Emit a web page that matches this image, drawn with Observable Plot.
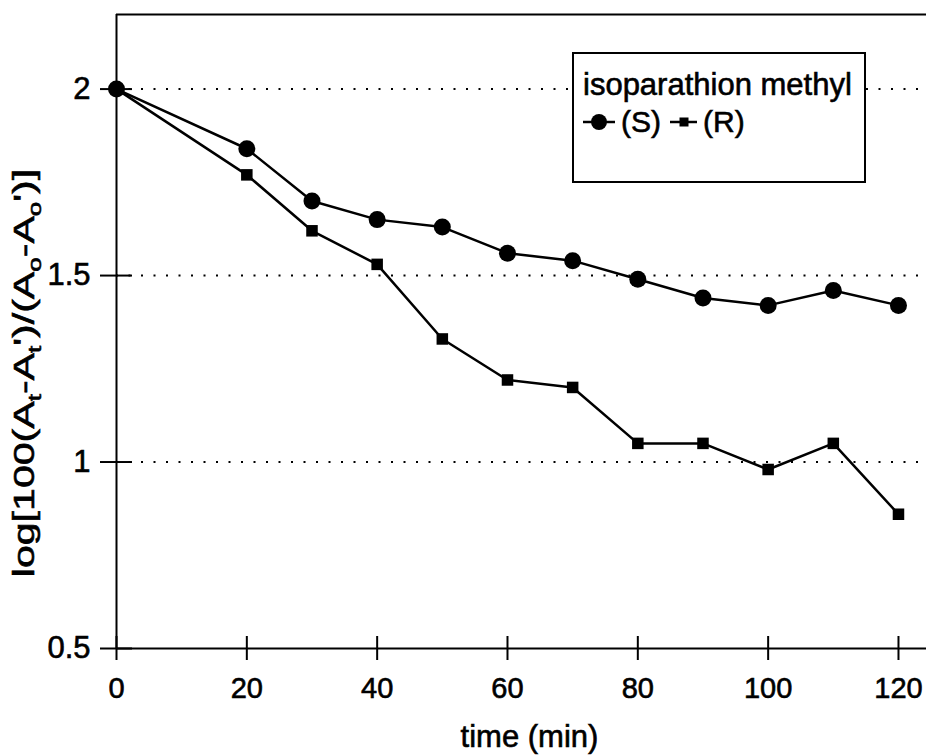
<!DOCTYPE html>
<html><head><meta charset="utf-8">
<script src="https://cdn.jsdelivr.net/npm/d3@7"></script>
<script src="https://cdn.jsdelivr.net/npm/@observablehq/plot@0.6"></script>
<style>
body{margin:0;background:#fff;}
#chart{position:relative;width:926px;height:755px;font-family:"Liberation Sans",Arial,Helvetica,sans-serif;}
#chart text{stroke:#000;stroke-width:0.6px;paint-order:stroke;}
#legend{position:absolute;left:572px;top:52px;}
</style></head><body><div id="chart"></div>
<script>
const time = [0, 20, 30, 40, 50, 60, 70, 80, 90, 100, 110, 120];
const seriesS = [2.00, 1.84, 1.70, 1.65, 1.63, 1.56, 1.54, 1.49, 1.44, 1.42, 1.46, 1.42];
const seriesR = [2.00, 1.77, 1.62, 1.53, 1.33, 1.22, 1.20, 1.05, 1.05, 0.98, 1.05, 0.86];
const xTicks = [0, 20, 40, 60, 80, 100, 120];
const yTicks = [0.5, 1, 1.5, 2];
const gridY = [1, 1.5, 2];
const seriesNames = ["(S)", "(R)"];
const legendTitle = "isoparathion methyl";
const xLabel = "time (min)";
const yLabelParts = [["log[100(A", 0], ["t", 1], ["-A", 0], ["t", 1], ["')/(A", 0], ["o", 1], ["-A", 0], ["o", 1], ["')]", 0]];

const dataS = time.map((t, i) => ({t, v: seriesS[i]}));
const dataR = time.map((t, i) => ({t, v: seriesR[i]}));
const font = '"Liberation Sans", Arial, Helvetica, sans-serif';

const plot = Plot.plot({
  width: 926, height: 755,
  marginLeft: 116, marginRight: 0, marginTop: 14, marginBottom: 107,
  style: {fontFamily: font, fontSize: "29px", color: "#000", background: "#fff", overflow: "visible"},
  x: {domain: [0, 124.3]},
  y: {domain: [0.5, 2.2]},
  marks: [
    Plot.ruleY(gridY, {stroke: "#000", strokeWidth: 2, strokeDasharray: "2,10.5"}),
    Plot.ruleY([2.2], {stroke: "#000", strokeWidth: 2}),
    Plot.ruleY([0.5], {stroke: "#000", strokeWidth: 2}),
    Plot.ruleX([0], {stroke: "#000", strokeWidth: 2}),
    Plot.axisX({ticks: xTicks, tickSize: 24, dy: -12, tickPadding: 17, strokeWidth: 2, label: null, tickFormat: d => String(d), fontSize: 29}),
    Plot.axisY({ticks: yTicks, tickSize: 32, dx: 16, tickPadding: 10, strokeWidth: 2, label: null, tickFormat: d => String(d), fontSize: 31}),
    Plot.line(dataS, {x: "t", y: "v", stroke: "#000", strokeWidth: 2.5}),
    Plot.line(dataR, {x: "t", y: "v", stroke: "#000", strokeWidth: 2.5}),
    Plot.dot(dataS, {x: "t", y: "v", r: 8.5, fill: "#000", symbol: "circle"}),
    Plot.dot(dataR, {x: "t", y: "v", r: 6.5, fill: "#000", symbol: "square"}),
    Plot.text([xLabel], {frameAnchor: "bottom", text: d => d, dy: 89, dx: 8, fontSize: 31, lineAnchor: "middle"})
  ]
});

document.getElementById("chart").appendChild(plot);

// y-axis label with subscripts (stretched along its length as in the reference)
const svg = d3.select(plot);
const yl = svg.append("text")
  .attr("transform", "translate(34,373) rotate(-90) scale(1.37,1)")
  .attr("text-anchor", "middle")
  .style("font-family", font)
  .style("font-size", "30px")
  .attr("fill", "#000");
let prevSub = 0;
yLabelParts.forEach(([s, sub]) => {
  const ts = yl.append("tspan").text(s).style("font-size", sub ? "19px" : "30px");
  const shift = (sub ? 7 : 0) - (prevSub ? 7 : 0);
  if (shift) ts.attr("dy", shift);
  prevSub = sub;
});

// legend
const lg = d3.select("#chart").append("svg").attr("id", "legend")
  .attr("width", 296).attr("height", 133)
  .style("font-family", font);
lg.append("rect").attr("x", 1).attr("y", 1).attr("width", 292).attr("height", 129)
  .attr("fill", "#fff").attr("stroke", "#000").attr("stroke-width", 2);
lg.append("text").attr("x", 11).attr("y", 43).style("font-size", "31px").text(legendTitle);
const rowY = 70;
// S
lg.append("line").attr("x1", 11).attr("x2", 43).attr("y1", rowY).attr("y2", rowY).attr("stroke", "#000").attr("stroke-width", 2.5);
lg.append("circle").attr("cx", 27).attr("cy", rowY).attr("r", 8).attr("fill", "#000");
lg.append("text").attr("x", 49).attr("y", 80).style("font-size", "30px").text(seriesNames[0]);
// R
lg.append("line").attr("x1", 98).attr("x2", 125).attr("y1", rowY).attr("y2", rowY).attr("stroke", "#000").attr("stroke-width", 2.5);
lg.append("rect").attr("x", 107.5).attr("y", rowY - 4.5).attr("width", 9).attr("height", 9).attr("fill", "#000");
lg.append("text").attr("x", 131).attr("y", 80).style("font-size", "30px").text(seriesNames[1]);
</script></body></html>
